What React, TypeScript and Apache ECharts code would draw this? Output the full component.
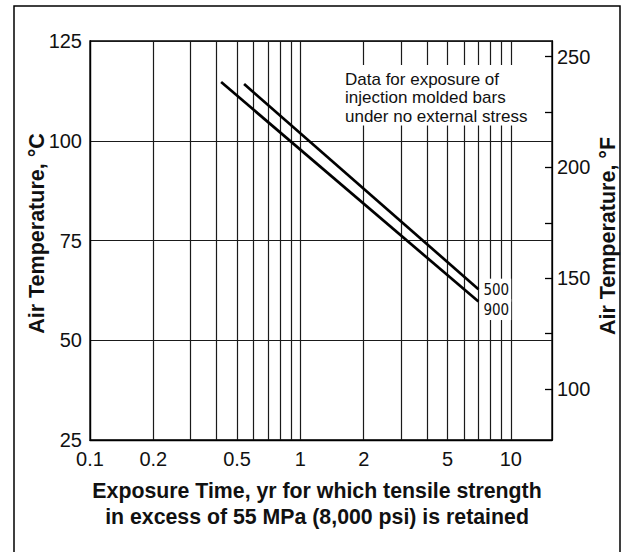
import React, { useEffect, useRef } from "react";
import * as echarts from "echarts";

// ---- data ----
const seriesNames = ["500", "900"];
const years500 = [0.54, 7.02];
const tempC500 = [114.2, 62.8];
const years900 = [0.42, 7.02];
const tempC900 = [114.7, 59.7];

const xGridValues = [0.1, 0.2, 0.3, 0.4, 0.5, 0.6, 0.7, 0.8, 0.9, 1, 2, 3, 4, 5, 6, 7, 8, 9, 10];
const xLabelValues = [0.1, 0.2, 0.5, 1, 2, 5, 10];
const cMin = 25;
const cMax = 125;
const cInterval = 25;
const fTickValues = [100, 125, 150, 175, 200, 225, 250];
const fLabelValues = [100, 150, 200, 250];
const xMin = 0.1;
const xMax = 15.7;

const noteText = "Data for exposure of\ninjection molded bars\nunder no external stress";
const xTitle = "Exposure Time, yr for which tensile strength\nin excess of 55 MPa (8,000 psi) is retained";
const yTitleC = "Air Temperature, \u00B0C";
const yTitleF = "Air Temperature, \u00B0F";

const FONT = '"Liberation Sans", Arial, Helvetica, sans-serif';
const NARROW = '"Liberation Sans Narrow", "DejaVu Sans Condensed", "Liberation Sans", Arial, sans-serif';
const INK = "#111";

export default function App() {
  const ref = useRef<HTMLDivElement>(null);

  useEffect(() => {
    document.body.style.margin = "0";
    if (!ref.current) return;
    const chart = echarts.init(ref.current, undefined, { renderer: "svg" });

    const toF = (c: number) => (c * 9) / 5 + 32;

    const pair = (xs: number[], ys: number[]) => xs.map((x, i) => [x, ys[i]]);

    const option: any = {
      animation: false,
      backgroundColor: "#fff",
      textStyle: { fontFamily: FONT, color: INK },
      grid: {
        left: 90,
        top: 41,
        right: 74,
        bottom: 112,
        show: true,
        borderColor: "#000",
        borderWidth: 1.3,
        backgroundColor: "transparent",
      },
      xAxis: {
        type: "log",
        logBase: 10,
        min: xMin,
        max: xMax,
        axisLine: { show: true, lineStyle: { color: "#000", width: 1.3 } },
        axisTick: { show: false, customValues: xGridValues },
        axisLabel: {
          customValues: xLabelValues,
          formatter: (v: number) => String(+Number(v).toPrecision(3)),
          fontSize: 20,
          color: INK,
          fontFamily: FONT,
          margin: 9,
        },
        splitLine: { show: true, lineStyle: { color: "#1a1a1a", width: 1.2 } },
      },
      yAxis: [
        {
          type: "value",
          position: "left",
          min: cMin,
          max: cMax,
          interval: cInterval,
          axisLine: { show: true, lineStyle: { color: "#000", width: 1.3 } },
          axisTick: { show: false },
          axisLabel: { fontSize: 20, color: INK, fontFamily: FONT, margin: 8 },
          splitLine: { show: true, lineStyle: { color: "#1a1a1a", width: 1.2 } },
        },
        {
          type: "value",
          position: "right",
          min: toF(cMin),
          max: toF(cMax),
          axisLine: { show: true, lineStyle: { color: "#000", width: 1.3 } },
          axisTick: {
            show: true,
            inside: true,
            length: 7,
            customValues: fTickValues,
            lineStyle: { color: "#000", width: 1.3 },
          },
          axisLabel: {
            customValues: fLabelValues,
            fontSize: 20,
            color: INK,
            fontFamily: FONT,
            margin: 5,
          },
          splitLine: { show: false },
        },
      ],
      series: [
        {
          name: seriesNames[0],
          type: "line",
          yAxisIndex: 0,
          data: pair(years500, tempC500),
          showSymbol: false,
          symbol: "none",
          silent: true,
          lineStyle: { color: "#000", width: 2.7 },
          endLabel: {
            show: true,
            formatter: seriesNames[0],
            distance: 2,
            offset: [0, 1],
            fontSize: 15,
            fontFamily: NARROW,
            color: INK,
            lineHeight: 17,
            backgroundColor: "#fff",
            padding: [5, 2, 1, 3],
          },
          z: 5,
        },
        {
          name: seriesNames[1],
          type: "line",
          yAxisIndex: 0,
          data: pair(years900, tempC900),
          showSymbol: false,
          symbol: "none",
          silent: true,
          lineStyle: { color: "#000", width: 2.7 },
          endLabel: {
            show: true,
            formatter: seriesNames[1],
            distance: 2,
            offset: [0, 8],
            fontSize: 15,
            fontFamily: NARROW,
            color: INK,
            lineHeight: 17,
            backgroundColor: "#fff",
            padding: [2, 2, 2, 3],
          },
          z: 5,
        },
      ],
      graphic: [
        {
          type: "rect",
          silent: true,
          z: 100,
          shape: { x: 14, y: 6, width: 606, height: 560 },
          style: { fill: "none", stroke: "#000", lineWidth: 1.5 },
        },
        {
          type: "text",
          silent: true,
          z: 100,
          x: 341,
          y: 65,
          style: {
            text: noteText,
            font: `17px ${FONT}`,
            fill: INK,
            lineHeight: 18.5,
            align: "left",
            verticalAlign: "top",
            backgroundColor: "#fff",
            padding: [5, 4, 0, 4],
          },
        },
        {
          type: "text",
          silent: true,
          z: 100,
          x: 317,
          y: 478,
          style: {
            text: xTitle,
            font: `bold 21.3px ${FONT}`,
            fill: INK,
            lineHeight: 26,
            align: "center",
            verticalAlign: "top",
          },
        },
        {
          type: "text",
          silent: true,
          z: 100,
          x: 36.5,
          y: 233.5,
          rotation: Math.PI / 2,
          style: {
            text: yTitleC,
            font: `bold 21.5px ${FONT}`,
            fill: INK,
            align: "center",
            verticalAlign: "middle",
          },
        },
        {
          type: "text",
          silent: true,
          z: 100,
          x: 608,
          y: 236,
          rotation: Math.PI / 2,
          style: {
            text: yTitleF,
            font: `bold 21.5px ${FONT}`,
            fill: INK,
            align: "center",
            verticalAlign: "middle",
          },
        },
      ],
    };

    chart.setOption(option);
    return () => {
      chart.dispose();
    };
  }, []);

  return <div ref={ref} style={{ width: 626, height: 552 }} />;
}
